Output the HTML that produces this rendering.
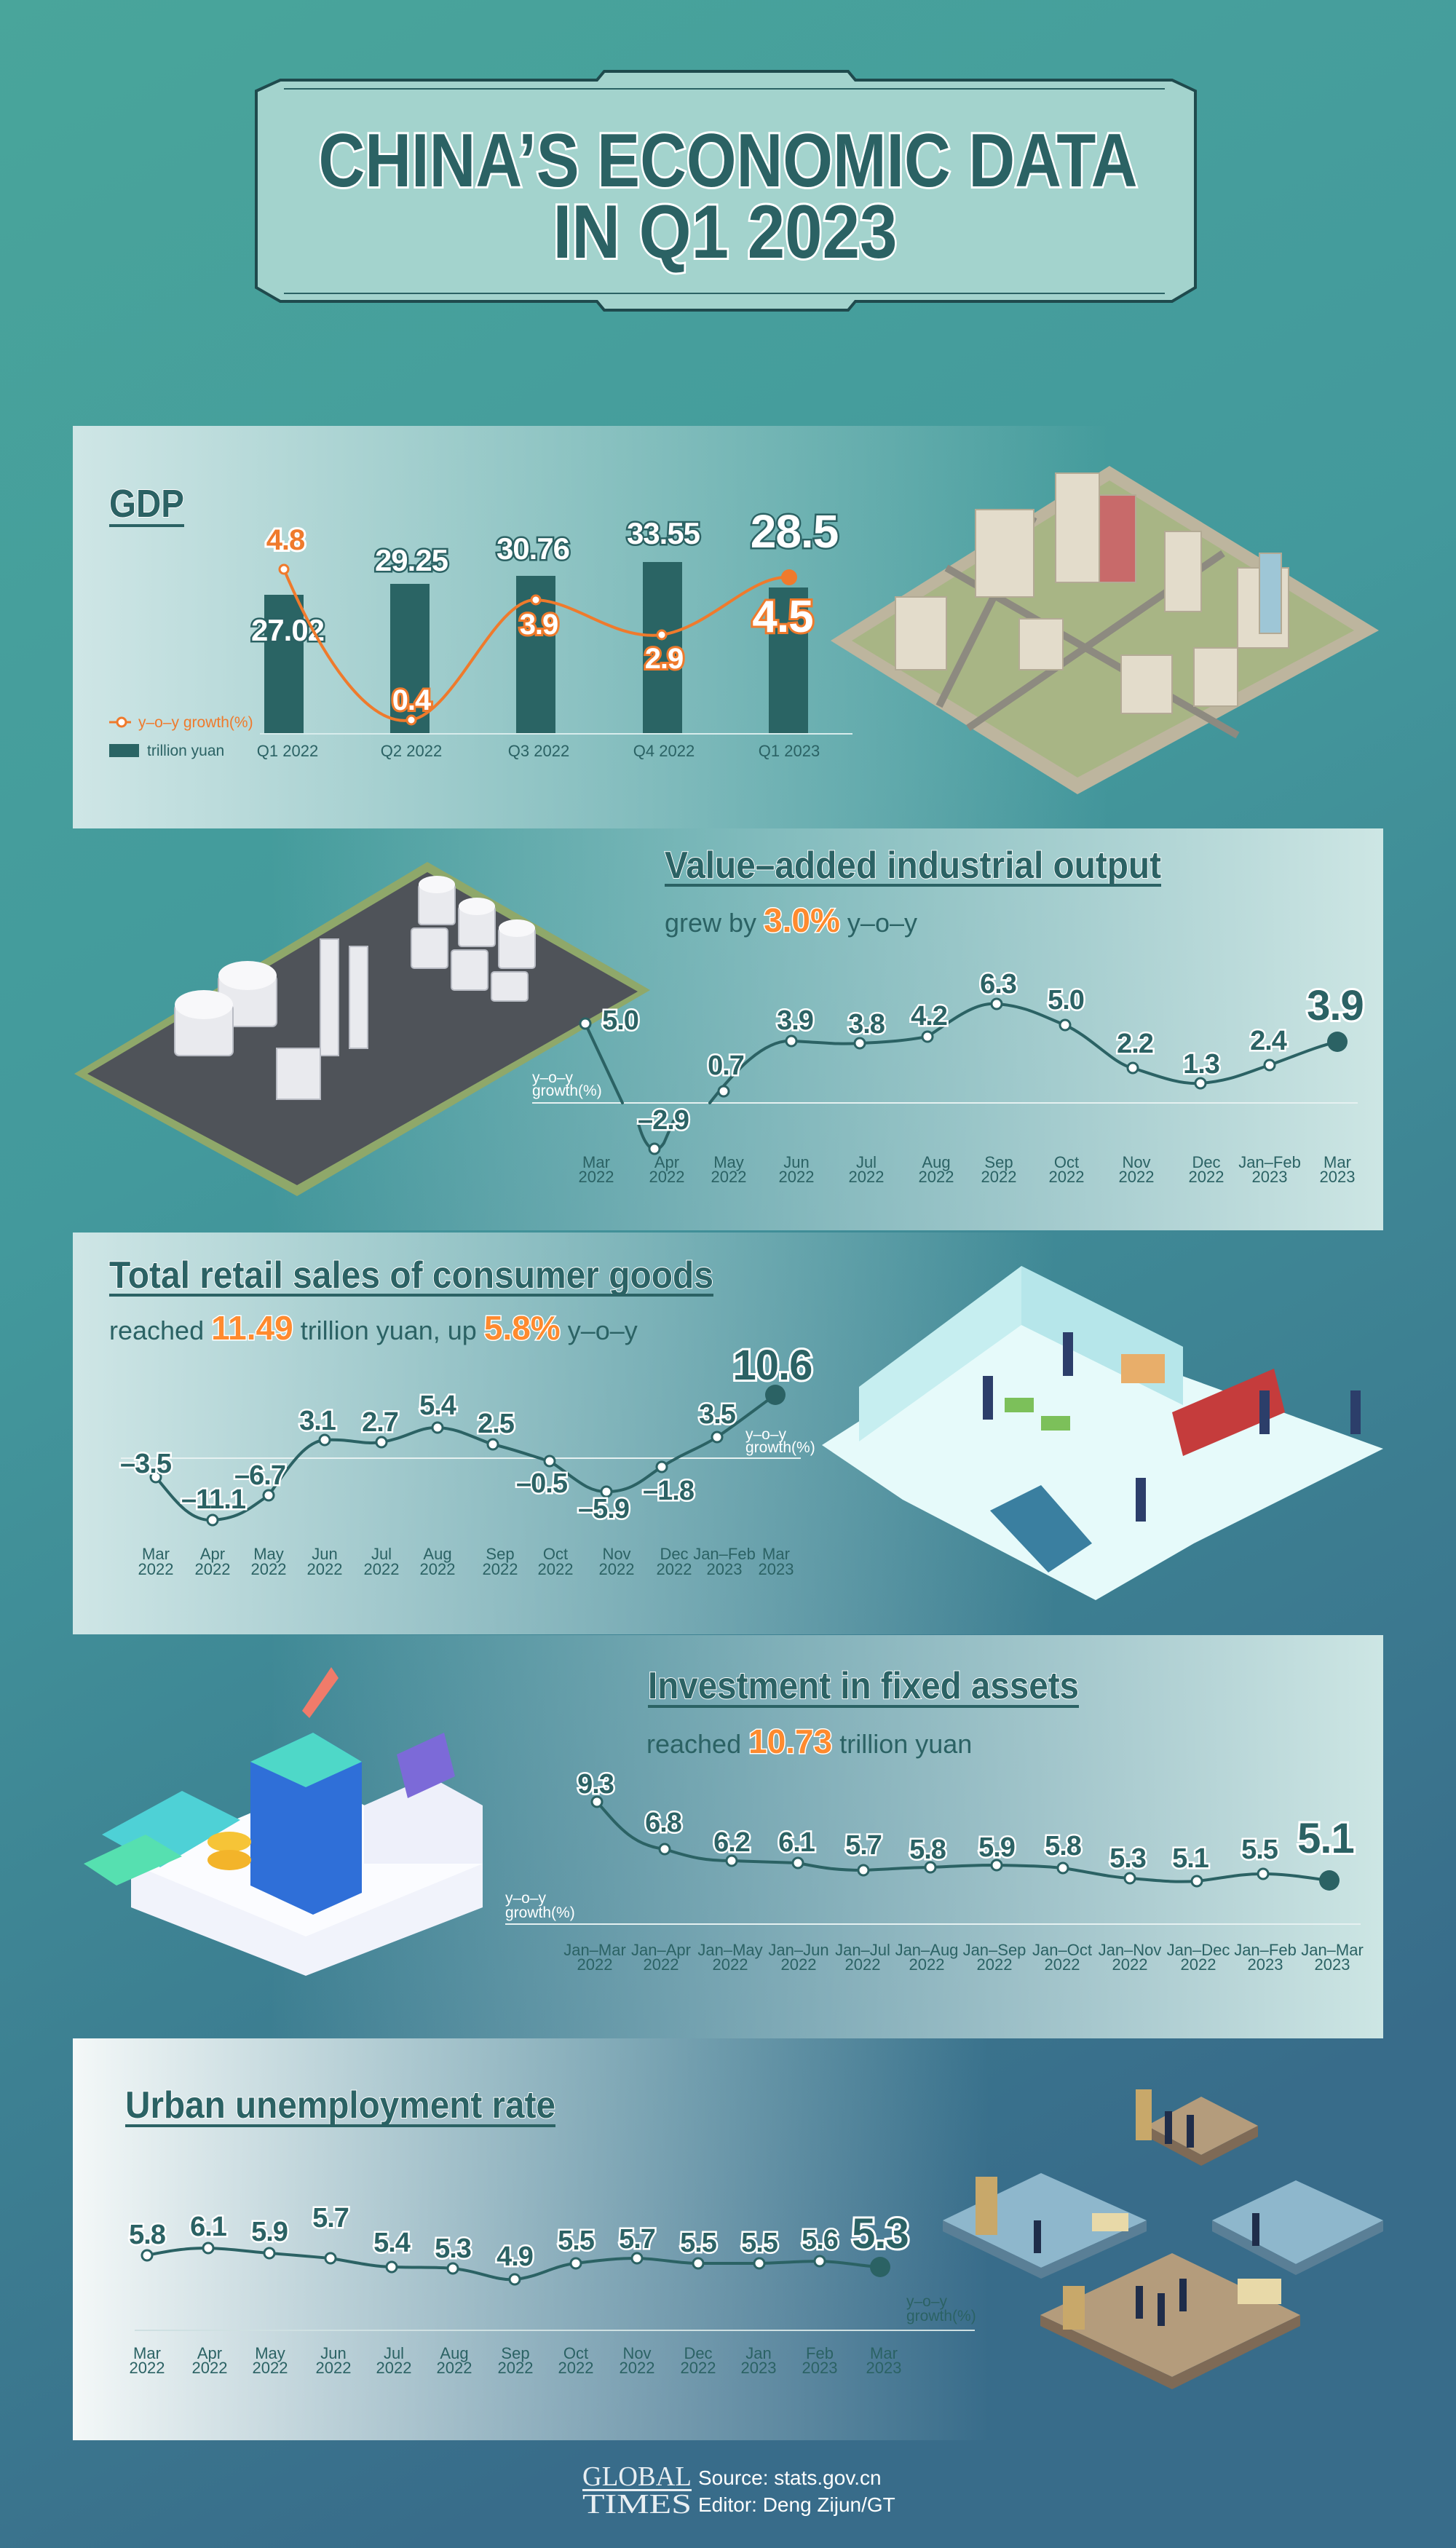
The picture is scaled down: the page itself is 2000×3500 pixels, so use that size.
<!DOCTYPE html>
<html><head><meta charset="utf-8"><style>
html,body{margin:0;padding:0;width:2000px;height:3500px;overflow:hidden}
svg{display:block}
.v{font-family:"Liberation Sans",sans-serif;font-weight:bold;font-size:38px;fill:#2b6264;stroke:#fff;stroke-width:5;paint-order:stroke;text-anchor:middle;letter-spacing:-1px}
.vb{font-family:"Liberation Sans",sans-serif;font-weight:bold;font-size:58px;fill:#2b6264;stroke:#fff;stroke-width:6;paint-order:stroke;text-anchor:middle;letter-spacing:-1px}
.vw{font-family:"Liberation Sans",sans-serif;font-weight:bold;font-size:42px;fill:#fff;stroke:#2b6264;stroke-width:5;paint-order:stroke;text-anchor:middle;letter-spacing:-1px}
.o{font-family:"Liberation Sans",sans-serif;font-weight:bold;font-size:40px;fill:#fff;stroke:#ef7a2c;stroke-width:6;paint-order:stroke;text-anchor:middle;letter-spacing:-1px}
.m{font-family:"Liberation Sans",sans-serif;font-size:22px;fill:#2b6264;text-anchor:middle}
.t{font-family:"Liberation Sans",sans-serif;font-weight:bold;fill:#2b6264;stroke:#fff;stroke-width:2;paint-order:stroke}
.s{font-family:"Liberation Sans",sans-serif;font-size:36px;fill:#2b6264}
.so{font-weight:bold;font-size:46px;fill:#ff8a2e;stroke:#fff;stroke-width:3;paint-order:stroke}
.y{font-family:"Liberation Sans",sans-serif;font-size:21px;fill:#fff}
.ln{fill:none;stroke:#2b6264;stroke-width:4;stroke-linejoin:round;stroke-linecap:round}
.pt{fill:#fff;stroke:#2b6264;stroke-width:3}
</style></head><body>
<svg width="2000" height="3500" viewBox="0 0 2000 3500" xmlns="http://www.w3.org/2000/svg">
<defs>
<linearGradient id="bg" x1="0" y1="0" x2="0.3" y2="1">
<stop offset="0" stop-color="#49a59b"/><stop offset="0.45" stop-color="#43999c"/><stop offset="1" stop-color="#386c8a"/></linearGradient>
<linearGradient id="pl" x1="0" y1="0" x2="1" y2="0">
<stop offset="0" stop-color="#cfe6e6" stop-opacity="1"/><stop offset="0.75" stop-color="#cfe6e6" stop-opacity="0"/></linearGradient>
<linearGradient id="pr" x1="0" y1="0" x2="1" y2="0">
<stop offset="0.15" stop-color="#cfe6e6" stop-opacity="0"/><stop offset="1" stop-color="#cde6e4" stop-opacity="1"/></linearGradient>
<linearGradient id="pw" x1="0" y1="0" x2="1" y2="0">
<stop offset="0" stop-color="#f4f8f8" stop-opacity="1"/><stop offset="0.7" stop-color="#dfeeee" stop-opacity="0"/></linearGradient>
</defs>
<rect width="2000" height="3500" fill="url(#bg)"/>

<!-- Title box -->
<polygon points="352,125 385,110 820,110 830,98 1165,98 1175,110 1610,110 1642,125 1642,395 1610,414 1175,414 1165,426 830,426 820,414 385,414 352,395" fill="#a3d3cd" stroke="#1f4a4d" stroke-width="4"/>
<line x1="390" y1="122" x2="1600" y2="122" stroke="#2b6264" stroke-width="2"/>
<line x1="390" y1="403" x2="1600" y2="403" stroke="#2b6264" stroke-width="2"/>
<text x="1000" y="256" class="t" font-size="104" text-anchor="middle" textLength="1125" lengthAdjust="spacingAndGlyphs" style="stroke-width:6">CHINA’S ECONOMIC DATA</text>
<text x="996" y="354" class="t" font-size="104" text-anchor="middle" textLength="473" lengthAdjust="spacingAndGlyphs" style="stroke-width:6">IN Q1 2023</text>

<!-- Panels -->
<rect x="100" y="585" width="1900" height="553" fill="url(#pl)"/>
<rect x="100" y="1138" width="1800" height="552" fill="url(#pr)"/>
<rect x="100" y="1693" width="1800" height="552" fill="url(#pl)"/>
<rect x="100" y="2246" width="1800" height="554" fill="url(#pr)"/>
<rect x="100" y="2800" width="1800" height="552" fill="url(#pw)"/>

<!-- GDP -->
<text x="150" y="710" class="t" font-size="54" textLength="103" lengthAdjust="spacingAndGlyphs">GDP</text>
<rect x="150" y="720" width="103" height="4" fill="#2b6264"/>
<g fill="#2a6464">
<rect x="363" y="817" width="54" height="191"/><rect x="536" y="802" width="54" height="206"/>
<rect x="709" y="791" width="54" height="217"/><rect x="883" y="772" width="54" height="236"/>
<rect x="1056" y="807" width="54" height="201"/></g>
<line x1="357" y1="1008" x2="1171" y2="1008" stroke="#d8ecec" stroke-width="2"/>
<text x="395" y="880" class="vw">27.02</text>
<text x="565" y="784" class="vw">29.25</text>
<text x="732" y="768" class="vw">30.76</text>
<text x="911" y="747" class="vw">33.55</text>
<text x="1091" y="752" class="vw" style="font-size:64px">28.5</text>
<path d="M390,782 C440,900 505,1000 565,989 C625,978 680,822 736,824 C792,826 845,880 909,872 C975,862 1030,790 1084,793" fill="none" stroke="#ef7a2c" stroke-width="4"/>
<g fill="#fff" stroke="#ef7a2c" stroke-width="3"><circle cx="390" cy="782" r="6"/><circle cx="565" cy="989" r="6"/><circle cx="736" cy="824" r="6"/><circle cx="909" cy="872" r="6"/></g>
<circle cx="1084" cy="793" r="11" fill="#ef7a2c"/>
<text x="392" y="755" class="o" style="fill:#ef7a2c;stroke:#fff">4.8</text>
<text x="565" y="975" class="o">0.4</text>
<text x="740" y="871" class="o">3.9</text>
<text x="912" y="918" class="o">2.9</text>
<text x="1075" y="868" class="o" style="font-size:62px">4.5</text>
<line x1="150" y1="992" x2="180" y2="992" stroke="#ef7a2c" stroke-width="3"/><circle cx="167" cy="992" r="6" fill="#fff" stroke="#ef7a2c" stroke-width="3"/>
<text x="190" y="999" font-family="Liberation Sans" font-size="21" fill="#ef7a2c">y–o–y growth(%)</text>
<rect x="150" y="1022" width="41" height="18" fill="#2a6464"/>
<text x="202" y="1038" font-family="Liberation Sans" font-size="21" fill="#2b6264">trillion yuan</text>
<text x="395" y="1039" class="m">Q1 2022</text><text x="565" y="1039" class="m">Q2 2022</text><text x="740" y="1039" class="m">Q3 2022</text><text x="912" y="1039" class="m">Q4 2022</text><text x="1084" y="1039" class="m">Q1 2023</text>
<!-- city -->
<polygon points="1524,640 1894,866 1480,1091 1141,880" fill="#bdb59e"/>
<polygon points="1524,660 1860,866 1480,1068 1170,880" fill="#a8b585"/>
<g stroke="#8d8a80" stroke-width="10"><line x1="1300" y1="780" x2="1700" y2="1010"/><line x1="1420" y1="710" x2="1290" y2="970"/><line x1="1680" y1="760" x2="1330" y2="1000"/></g>
<g fill="#e3dccb" stroke="#b3aa95" stroke-width="2">
<rect x="1340" y="700" width="80" height="120"/><rect x="1450" y="650" width="60" height="150"/><rect x="1510" y="680" width="50" height="120" fill="#c86a6a"/>
<rect x="1230" y="820" width="70" height="100"/><rect x="1700" y="780" width="70" height="110"/><rect x="1730" y="760" width="30" height="110" fill="#9ec6d6"/>
<rect x="1600" y="730" width="50" height="110"/><rect x="1540" y="900" width="70" height="80"/><rect x="1400" y="850" width="60" height="70"/><rect x="1640" y="890" width="60" height="80"/></g>

<!-- factory (drawn first) -->
<polygon points="587,1184 893,1360 408,1643 102,1475" fill="#8fa86a"/>
<polygon points="587,1198 876,1362 408,1628 120,1475" fill="#4f5359"/>
<g fill="#e9eaee" stroke="#b9bcc4" stroke-width="2">
<rect x="575" y="1215" width="50" height="55" rx="4"/><rect x="630" y="1245" width="50" height="55" rx="4"/><rect x="685" y="1275" width="50" height="55" rx="4"/>
<rect x="565" y="1275" width="50" height="55" rx="4"/><rect x="620" y="1305" width="50" height="55" rx="4"/><rect x="675" y="1335" width="50" height="40" rx="4"/>
<rect x="300" y="1340" width="80" height="70" rx="6"/><rect x="240" y="1380" width="80" height="70" rx="6"/>
<rect x="440" y="1290" width="25" height="160"/><rect x="480" y="1300" width="25" height="140"/><rect x="380" y="1440" width="60" height="70"/></g>
<g fill="#f8f8fa"><ellipse cx="600" cy="1215" rx="25" ry="12"/><ellipse cx="655" cy="1245" rx="25" ry="12"/><ellipse cx="710" cy="1275" rx="25" ry="12"/><ellipse cx="340" cy="1340" rx="40" ry="20"/><ellipse cx="280" cy="1380" rx="40" ry="20"/></g>

<!-- Industrial -->
<text x="913" y="1206" class="t" font-size="52" textLength="682" lengthAdjust="spacingAndGlyphs">Value–added industrial output</text>
<rect x="913" y="1214" width="682" height="4" fill="#2b6264"/>
<text x="913" y="1280" class="s">grew by <tspan class="so">3.0%</tspan> y–o–y</text>
<line x1="731" y1="1515" x2="1865" y2="1515" stroke="#e6f1f1" stroke-width="2"/>
<text x="731" y="1487" class="y">y–o–y</text><text x="731" y="1505" class="y">growth(%)</text>
<path class="ln" d="M804,1406 L855,1515 M876,1540 C885,1575 899,1590 912,1570 L925,1540 M975,1515 C1010,1470 1050,1428 1087,1430 C1130,1432 1150,1435 1181,1433 C1230,1431 1250,1428 1274,1424 C1310,1400 1340,1376 1369,1379 C1410,1382 1430,1395 1463,1408 C1500,1425 1530,1462 1556,1467 C1590,1478 1620,1490 1649,1488 C1690,1485 1710,1474 1744,1463 C1780,1450 1810,1437 1837,1431"/>
<g class="pt"><circle cx="804" cy="1406" r="7"/><circle cx="899" cy="1578" r="7"/><circle cx="994" cy="1499" r="7"/><circle cx="1087" cy="1430" r="7"/><circle cx="1181" cy="1433" r="7"/><circle cx="1274" cy="1424" r="7"/><circle cx="1369" cy="1379" r="7"/><circle cx="1463" cy="1408" r="7"/><circle cx="1556" cy="1467" r="7"/><circle cx="1649" cy="1488" r="7"/><circle cx="1744" cy="1463" r="7"/></g>
<circle cx="1837" cy="1431" r="14" fill="#2b6264"/>
<text x="852" y="1414" class="v">5.0</text><text x="911" y="1551" class="v">–2.9</text><text x="997" y="1476" class="v">0.7</text>
<text x="1092" y="1414" class="v">3.9</text><text x="1190" y="1419" class="v">3.8</text><text x="1276" y="1408" class="v">4.2</text>
<text x="1371" y="1364" class="v">6.3</text><text x="1464" y="1386" class="v">5.0</text><text x="1559" y="1446" class="v">2.2</text>
<text x="1650" y="1474" class="v">1.3</text><text x="1742" y="1442" class="v">2.4</text><text x="1834" y="1401" class="vb">3.9</text>
<g class="m"><text x="819" y="1604">Mar</text><text x="819" y="1624">2022</text><text x="916" y="1604">Apr</text><text x="916" y="1624">2022</text><text x="1001" y="1604">May</text><text x="1001" y="1624">2022</text><text x="1094" y="1604">Jun</text><text x="1094" y="1624">2022</text><text x="1190" y="1604">Jul</text><text x="1190" y="1624">2022</text><text x="1286" y="1604">Aug</text><text x="1286" y="1624">2022</text><text x="1372" y="1604">Sep</text><text x="1372" y="1624">2022</text><text x="1465" y="1604">Oct</text><text x="1465" y="1624">2022</text><text x="1561" y="1604">Nov</text><text x="1561" y="1624">2022</text><text x="1657" y="1604">Dec</text><text x="1657" y="1624">2022</text><text x="1744" y="1604">Jan–Feb</text><text x="1744" y="1624">2023</text><text x="1837" y="1604">Mar</text><text x="1837" y="1624">2023</text></g>

<!-- Retail -->
<text x="150" y="1769" class="t" font-size="52" textLength="830" lengthAdjust="spacingAndGlyphs">Total retail sales of consumer goods</text>
<rect x="150" y="1777" width="830" height="4" fill="#2b6264"/>
<text x="150" y="1840" class="s">reached <tspan class="so">11.49</tspan> trillion yuan, up <tspan class="so">5.8%</tspan> y–o–y</text>
<line x1="166" y1="2003" x2="1100" y2="2003" stroke="#e6f1f1" stroke-width="2"/>
<path class="ln" d="M214,2029 C240,2060 260,2090 292,2088 C330,2086 345,2070 369,2054 C400,2010 420,1980 446,1978 C480,1976 500,1985 524,1981 C560,1975 575,1960 601,1961 C630,1962 650,1975 677,1984 C710,1992 730,2000 755,2007 C790,2030 805,2049 833,2049 C870,2049 885,2030 909,2015 C940,1995 960,1990 985,1974 C1020,1950 1045,1930 1065,1916"/>
<g class="pt"><circle cx="214" cy="2029" r="7"/><circle cx="292" cy="2088" r="7"/><circle cx="369" cy="2054" r="7"/><circle cx="446" cy="1978" r="7"/><circle cx="524" cy="1981" r="7"/><circle cx="601" cy="1961" r="7"/><circle cx="677" cy="1984" r="7"/><circle cx="755" cy="2007" r="7"/><circle cx="833" cy="2049" r="7"/><circle cx="909" cy="2015" r="7"/><circle cx="985" cy="1974" r="7"/></g>
<circle cx="1065" cy="1916" r="14" fill="#2b6264"/>
<text x="200" y="2023" class="v">–3.5</text><text x="293" y="2072" class="v">–11.1</text><text x="357" y="2039" class="v">–6.7</text>
<text x="436" y="1964" class="v">3.1</text><text x="522" y="1966" class="v">2.7</text><text x="601" y="1943" class="v">5.4</text>
<text x="681" y="1968" class="v">2.5</text><text x="744" y="2050" class="v">–0.5</text><text x="829" y="2085" class="v">–5.9</text>
<text x="918" y="2060" class="v">–1.8</text><text x="985" y="1955" class="v">3.5</text><text x="1061" y="1895" class="vb">10.6</text>
<text x="1024" y="1977" class="y">y–o–y</text><text x="1024" y="1995" class="y">growth(%)</text>
<g class="m"><text x="214" y="2142">Mar</text><text x="214" y="2163">2022</text><text x="292" y="2142">Apr</text><text x="292" y="2163">2022</text><text x="369" y="2142">May</text><text x="369" y="2163">2022</text><text x="446" y="2142">Jun</text><text x="446" y="2163">2022</text><text x="524" y="2142">Jul</text><text x="524" y="2163">2022</text><text x="601" y="2142">Aug</text><text x="601" y="2163">2022</text><text x="687" y="2142">Sep</text><text x="687" y="2163">2022</text><text x="763" y="2142">Oct</text><text x="763" y="2163">2022</text><text x="847" y="2142">Nov</text><text x="847" y="2163">2022</text><text x="926" y="2142">Dec</text><text x="926" y="2163">2022</text><text x="995" y="2142">Jan–Feb</text><text x="995" y="2163">2023</text><text x="1066" y="2142">Mar</text><text x="1066" y="2163">2023</text></g>
<!-- supermarket -->
<polygon points="1129,1985 1403,1810 1900,1990 1640,2120 1505,2198 1240,2060" fill="#e6fafa"/>
<polygon points="1180,1905 1403,1739 1625,1850 1625,1930 1403,1820 1180,1980" fill="#c6eef0"/>
<polygon points="1403,1739 1625,1850 1625,1930 1403,1820" fill="#b6e6ea"/>
<g fill="#e8ae6a"><rect x="1540" y="1860" width="60" height="40"/></g>
<polygon points="1610,1940 1750,1880 1765,1940 1625,2000" fill="#c53c3c"/>
<polygon points="1360,2075 1430,2040 1500,2120 1440,2160" fill="#3a7fa0"/>
<g fill="#2c3e6a"><rect x="1350" y="1890" width="14" height="60"/><rect x="1460" y="1830" width="14" height="60"/><rect x="1730" y="1910" width="14" height="60"/><rect x="1855" y="1910" width="14" height="60"/><rect x="1560" y="2030" width="14" height="60"/></g>
<g fill="#7cc05a"><rect x="1380" y="1920" width="40" height="20"/><rect x="1430" y="1945" width="40" height="20"/></g>

<!-- Investment -->
<text x="890" y="2333" class="t" font-size="52" textLength="592" lengthAdjust="spacingAndGlyphs">Investment in fixed assets</text>
<rect x="890" y="2342" width="592" height="4" fill="#2b6264"/>
<text x="888" y="2408" class="s">reached <tspan class="so">10.73</tspan> trillion yuan</text>
<line x1="694" y1="2643" x2="1869" y2="2643" stroke="#e6f1f1" stroke-width="2"/>
<text x="694" y="2614" class="y">y–o–y</text><text x="694" y="2634" class="y">growth(%)</text>
<path class="ln" d="M820,2475 C850,2510 870,2535 913,2540 C950,2552 970,2556 1005,2556 L1096,2559 C1130,2566 1150,2569 1186,2569 C1230,2567 1250,2565 1278,2565 C1320,2563 1340,2562 1369,2562 C1410,2563 1430,2563 1460,2566 C1500,2572 1520,2578 1552,2580 C1590,2583 1610,2586 1644,2584 C1680,2580 1700,2574 1735,2574 C1770,2574 1800,2580 1826,2583"/>
<g class="pt"><circle cx="820" cy="2475" r="7"/><circle cx="913" cy="2540" r="7"/><circle cx="1005" cy="2556" r="7"/><circle cx="1096" cy="2559" r="7"/><circle cx="1186" cy="2569" r="7"/><circle cx="1278" cy="2565" r="7"/><circle cx="1369" cy="2562" r="7"/><circle cx="1460" cy="2566" r="7"/><circle cx="1552" cy="2580" r="7"/><circle cx="1644" cy="2584" r="7"/><circle cx="1735" cy="2574" r="7"/></g>
<circle cx="1826" cy="2583" r="14" fill="#2b6264"/>
<text x="818" y="2463" class="v">9.3</text><text x="911" y="2516" class="v">6.8</text><text x="1005" y="2543" class="v">6.2</text>
<text x="1094" y="2543" class="v">6.1</text><text x="1186" y="2547" class="v">5.7</text><text x="1274" y="2553" class="v">5.8</text>
<text x="1369" y="2550" class="v">5.9</text><text x="1460" y="2548" class="v">5.8</text><text x="1549" y="2565" class="v">5.3</text>
<text x="1635" y="2565" class="v">5.1</text><text x="1730" y="2553" class="v">5.5</text><text x="1821" y="2545" class="vb">5.1</text>
<g class="m"><text x="817" y="2686">Jan–Mar</text><text x="817" y="2706">2022</text><text x="908" y="2686">Jan–Apr</text><text x="908" y="2706">2022</text><text x="1003" y="2686">Jan–May</text><text x="1003" y="2706">2022</text><text x="1097" y="2686">Jan–Jun</text><text x="1097" y="2706">2022</text><text x="1185" y="2686">Jan–Jul</text><text x="1185" y="2706">2022</text><text x="1273" y="2686">Jan–Aug</text><text x="1273" y="2706">2022</text><text x="1366" y="2686">Jan–Sep</text><text x="1366" y="2706">2022</text><text x="1459" y="2686">Jan–Oct</text><text x="1459" y="2706">2022</text><text x="1552" y="2686">Jan–Nov</text><text x="1552" y="2706">2022</text><text x="1646" y="2686">Jan–Dec</text><text x="1646" y="2706">2022</text><text x="1738" y="2686">Jan–Feb</text><text x="1738" y="2706">2023</text><text x="1830" y="2686">Jan–Mar</text><text x="1830" y="2706">2023</text></g>
<!-- bank -->
<polygon points="180,2560 440,2450 663,2560 663,2620 420,2714 180,2620" fill="#f1f3fb"/>
<polygon points="180,2560 420,2660 663,2560 440,2450" fill="#fbfcff"/>
<polygon points="500,2480 590,2440 663,2480 663,2560 500,2560" fill="#eef0fa"/>
<polygon points="140,2520 250,2460 330,2500 220,2565" fill="#4ed1d6"/>
<polygon points="115,2560 200,2520 250,2550 160,2590" fill="#56e0b0"/>
<polygon points="344,2420 430,2380 497,2420 497,2600 430,2630 344,2590" fill="#2f6fd8"/>
<polygon points="344,2420 430,2380 497,2420 420,2455" fill="#4ed8c8"/>
<polygon points="545,2410 610,2380 625,2440 560,2470" fill="#7c6ad8"/>
<polygon points="415,2350 455,2290 465,2305 425,2360" fill="#f07b6a"/>
<ellipse cx="315" cy="2530" rx="30" ry="14" fill="#f6c437"/><ellipse cx="315" cy="2555" rx="30" ry="14" fill="#f3b42a"/>

<!-- Unemployment -->
<text x="172" y="2909" class="t" font-size="52" textLength="591" lengthAdjust="spacingAndGlyphs">Urban unemployment rate</text>
<rect x="172" y="2918" width="591" height="4" fill="#2b6264"/>
<line x1="185" y1="3201" x2="1339" y2="3201" stroke="#cfe0e2" stroke-width="2"/>
<text x="1245" y="3168" class="y" style="fill:#2b6264">y–o–y</text><text x="1245" y="3188" class="y" style="fill:#2b6264">growth(%)</text>
<path class="ln" d="M202,3098 C240,3090 260,3088 286,3088 C320,3089 340,3093 370,3095 C410,3098 430,3100 454,3102 C490,3108 510,3113 538,3114 C580,3115 600,3114 622,3116 C660,3120 680,3133 707,3131 C740,3128 760,3112 791,3109 C830,3104 850,3102 875,3102 C910,3103 930,3109 959,3109 L1043,3109 C1080,3108 1100,3106 1126,3106 C1160,3107 1185,3113 1209,3114"/>
<g class="pt"><circle cx="202" cy="3098" r="7"/><circle cx="286" cy="3088" r="7"/><circle cx="370" cy="3095" r="7"/><circle cx="454" cy="3102" r="7"/><circle cx="538" cy="3114" r="7"/><circle cx="622" cy="3116" r="7"/><circle cx="707" cy="3131" r="7"/><circle cx="791" cy="3109" r="7"/><circle cx="875" cy="3102" r="7"/><circle cx="959" cy="3109" r="7"/><circle cx="1043" cy="3109" r="7"/><circle cx="1126" cy="3106" r="7"/></g>
<circle cx="1209" cy="3114" r="14" fill="#2b6264"/>
<text x="202" y="3082" class="v">5.8</text><text x="286" y="3071" class="v">6.1</text><text x="370" y="3078" class="v">5.9</text>
<text x="454" y="3059" class="v">5.7</text><text x="538" y="3093" class="v">5.4</text><text x="622" y="3101" class="v">5.3</text>
<text x="707" y="3112" class="v">4.9</text><text x="791" y="3090" class="v">5.5</text><text x="875" y="3088" class="v">5.7</text>
<text x="959" y="3093" class="v">5.5</text><text x="1043" y="3093" class="v">5.5</text><text x="1126" y="3089" class="v">5.6</text><text x="1209" y="3088" class="vb">5.3</text>
<g class="m"><text x="202" y="3240">Mar</text><text x="202" y="3260">2022</text><text x="288" y="3240">Apr</text><text x="288" y="3260">2022</text><text x="371" y="3240">May</text><text x="371" y="3260">2022</text><text x="458" y="3240">Jun</text><text x="458" y="3260">2022</text><text x="541" y="3240">Jul</text><text x="541" y="3260">2022</text><text x="624" y="3240">Aug</text><text x="624" y="3260">2022</text><text x="708" y="3240">Sep</text><text x="708" y="3260">2022</text><text x="791" y="3240">Oct</text><text x="791" y="3260">2022</text><text x="875" y="3240">Nov</text><text x="875" y="3260">2022</text><text x="959" y="3240">Dec</text><text x="959" y="3260">2022</text><text x="1042" y="3240">Jan</text><text x="1042" y="3260">2023</text><text x="1126" y="3240">Feb</text><text x="1126" y="3260">2023</text><text x="1214" y="3240">Mar</text><text x="1214" y="3260">2023</text></g>
<!-- office -->
<polygon points="1650,2880 1728,2920 1650,2960 1575,2920" fill="#b49c7c"/>
<polygon points="1575,2920 1650,2960 1728,2920 1728,2935 1650,2975 1575,2935" fill="#7e6a56"/>
<polygon points="1430,2985 1575,3050 1430,3115 1295,3050" fill="#8eb7cc"/>
<polygon points="1295,3050 1430,3115 1575,3050 1575,3065 1430,3130 1295,3065" fill="#5a7f96"/>
<polygon points="1780,2995 1900,3050 1780,3110 1665,3050" fill="#8eb7cc"/>
<polygon points="1665,3050 1780,3110 1900,3050 1900,3065 1780,3125 1665,3065" fill="#5a7f96"/>
<polygon points="1610,3095 1786,3180 1610,3265 1429,3180" fill="#b49c7c"/>
<polygon points="1429,3180 1610,3265 1786,3180 1786,3195 1610,3282 1429,3195" fill="#7e6a56"/>
<g fill="#c8a86a"><rect x="1560" y="2870" width="22" height="70"/><rect x="1340" y="2990" width="30" height="80"/><rect x="1460" y="3140" width="30" height="60"/></g>
<g fill="#e8d9a8"><rect x="1700" y="3130" width="60" height="35"/><rect x="1500" y="3040" width="50" height="25"/></g>
<g fill="#1f2d4a"><rect x="1600" y="2900" width="10" height="45"/><rect x="1630" y="2905" width="10" height="45"/><rect x="1420" y="3050" width="10" height="45"/><rect x="1560" y="3140" width="10" height="45"/><rect x="1590" y="3150" width="10" height="45"/><rect x="1620" y="3130" width="10" height="45"/><rect x="1720" y="3040" width="10" height="45"/></g>

<!-- Footer -->
<text x="800" y="3414" font-family="Liberation Serif" font-size="38" fill="#e8eef2" textLength="150" lengthAdjust="spacingAndGlyphs">GLOBAL</text>
<rect x="800" y="3419" width="150" height="3" fill="#e8eef2"/>
<text x="800" y="3452" font-family="Liberation Serif" font-size="38" fill="#e8eef2" textLength="150" lengthAdjust="spacingAndGlyphs">TIMES</text>
<text x="959" y="3413" font-family="Liberation Sans" font-size="28" fill="#fff">Source: stats.gov.cn</text>
<text x="959" y="3450" font-family="Liberation Sans" font-size="28" fill="#fff">Editor: Deng Zijun/GT</text>
</svg>
</body></html>
